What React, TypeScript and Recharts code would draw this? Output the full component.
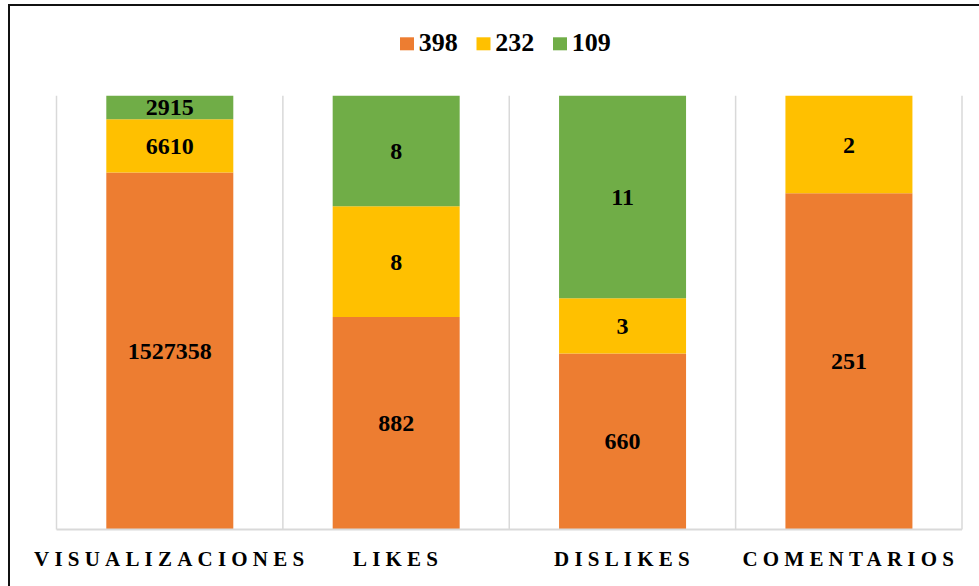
import React from "react";
import { BarChart, Bar, XAxis, YAxis, CartesianGrid, Legend, LabelList } from "recharts";

// Categories and series
const categories = ["VISUALIZACIONES", "LIKES", "DISLIKES", "COMENTARIOS"];
const seriesNames = ["398", "232", "109"];

// Segment shares (percent of bar height)
const shareOrange = [82.3, 49.0, 40.6, 77.5];
const shareYellow = [12.3, 25.5, 12.7, 22.5];
const shareGreen = [5.4, 25.5, 46.7, 0];

// Printed data labels
const labelOrange = ["1527358", "882", "660", "251"];
const labelYellow = ["6610", "8", "3", "2"];
const labelGreen = ["2915", "8", "11", ""];

const COLORS = ["#ED7D31", "#FFC000", "#70AD47"];
const SERIF = "'Liberation Serif', 'Times New Roman', serif";

const data = categories.map((c, i) => ({
  name: c,
  orange: shareOrange[i],
  yellow: shareYellow[i],
  green: shareGreen[i],
  lblOrange: labelOrange[i],
  lblYellow: labelYellow[i],
  lblGreen: labelGreen[i],
}));

const SegmentLabel = (props: any) => {
  const { x, y, width, height, value } = props;
  if (!value || !height || height <= 0) return null;
  return (
    <text
      x={Number(x) + Number(width) / 2}
      y={Number(y) + Number(height) / 2 + 8}
      textAnchor="middle"
      fontFamily={SERIF}
      fontWeight="bold"
      fontSize={24}
      fill="#000"
    >
      {value}
    </text>
  );
};

const CategoryTick = (props: any) => {
  const { x, y, payload } = props;
  return (
    <text
      x={x}
      y={y + 36.5}
      dx={2}
      textAnchor="middle"
      fontFamily={SERIF}
      fontWeight="bold"
      fontSize={21}
      letterSpacing={5.2}
      fill="#000"
    >
      {payload.value}
    </text>
  );
};

const LegendContent = (props: any) => {
  const { payload } = props;
  const items = [...((payload || []) as any[])].sort(
    (a, b) => seriesNames.indexOf(String(a.value)) - seriesNames.indexOf(String(b.value))
  );
  return (
    <svg width={230} height={34} style={{ display: "block" }}>
      {items.map((it, i) => (
        <g key={i} transform={`translate(${5 + i * 76.5},0)`}>
          <rect x={0} y={12.3} width={14} height={13} fill={it.color} />
          <text x={18.7} y={25.7} fontFamily={SERIF} fontWeight="bold" fontSize={26} fill="#000">
            {it.value}
          </text>
        </g>
      ))}
    </svg>
  );
};

export default function App() {
  return (
    <div
      style={{
        position: "fixed",
        left: 0,
        top: 0,
        width: 979,
        height: 586,
        overflow: "hidden",
        background: "#fff",
      }}
    >
      <div
        style={{
          position: "absolute",
          left: 8,
          top: 4,
          width: 2000,
          height: 2000,
          border: "2px solid #111",
          boxSizing: "border-box",
        }}
      />
      <div style={{ position: "absolute", left: 0, top: 0 }}>
        <BarChart
          width={979}
          height={586}
          data={data}
          margin={{ top: 95.7, right: 17, bottom: 0, left: 56.5 }}
          barCategoryGap="22%"
        >
          <CartesianGrid
            horizontal={false}
            stroke="#d9d9d9"
            strokeWidth={1.5}
            verticalCoordinatesGenerator={({ offset }: any) =>
              [0, 1, 2, 3, 4].map((i) => offset.left + (i * offset.width) / categories.length)
            }
          />
          <XAxis
            dataKey="name"
            height={56.5}
            tickLine={false}
            tickSize={0}
            tickMargin={0}
            axisLine={{ stroke: "#d9d9d9", strokeWidth: 2 }}
            tick={<CategoryTick />}
            interval={0}
          />
          <YAxis hide domain={[0, 100]} />
          <Legend
            verticalAlign="middle"
            align="center"
            content={<LegendContent />}
            wrapperStyle={{ left: 395, top: 25, width: 230, height: 34 }}
          />
          <Bar dataKey="orange" name={seriesNames[0]} stackId="a" fill={COLORS[0]} isAnimationActive={false}>
            <LabelList dataKey="lblOrange" content={<SegmentLabel />} />
          </Bar>
          <Bar dataKey="yellow" name={seriesNames[1]} stackId="a" fill={COLORS[1]} isAnimationActive={false}>
            <LabelList dataKey="lblYellow" content={<SegmentLabel />} />
          </Bar>
          <Bar dataKey="green" name={seriesNames[2]} stackId="a" fill={COLORS[2]} isAnimationActive={false}>
            <LabelList dataKey="lblGreen" content={<SegmentLabel />} />
          </Bar>
        </BarChart>
      </div>
    </div>
  );
}
